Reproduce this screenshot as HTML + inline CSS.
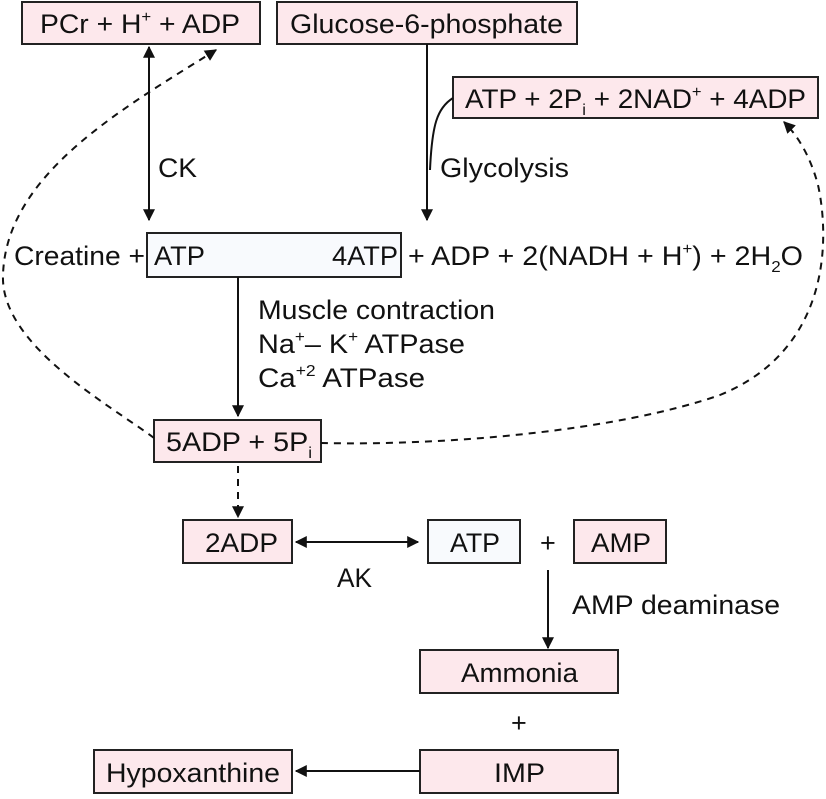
<!DOCTYPE html>
<html><head><meta charset="utf-8"><style>
html,body{margin:0;padding:0;background:#fff;}
svg text{font-family:"Liberation Sans",Arial,sans-serif;font-size:27px;fill:#111;}
.p{fill:#fde8ec;stroke:#222;stroke-width:2;}
.w{fill:#f8fafd;stroke:#222;stroke-width:2;}
.l{stroke:#111;stroke-width:2;fill:none;}
.d{stroke:#111;stroke-width:2;fill:none;stroke-dasharray:7,6;}
</style></head><body>
<svg width="826" height="794" viewBox="0 0 826 794" xmlns="http://www.w3.org/2000/svg">
<defs>
<marker id="a" viewBox="0 0 10 10" refX="9" refY="5" markerWidth="12" markerHeight="12" markerUnits="userSpaceOnUse" orient="auto-start-reverse"><path d="M0,0 L10,5 L0,10 z" fill="#111"/></marker>
</defs>
<rect class="p" x="22" y="2" width="238" height="42"/>
<text x="40" y="33" textLength="200" lengthAdjust="spacingAndGlyphs">PCr + H<tspan font-size="16" dy="-11">+</tspan><tspan dy="11"> + ADP</tspan></text>
<rect class="p" x="277" y="2" width="300" height="42"/>
<text x="290" y="33" textLength="273" lengthAdjust="spacingAndGlyphs">Glucose-6-phosphate</text>
<rect class="p" x="453" y="77" width="365" height="41"/>
<text x="465" y="108" textLength="341" lengthAdjust="spacingAndGlyphs">ATP + 2P<tspan font-size="16" dy="7">i</tspan><tspan dy="-7"> + 2NAD</tspan><tspan font-size="16" dy="-11">+</tspan><tspan dy="11"> + 4ADP</tspan></text>
<rect class="w" x="147" y="233" width="254" height="44"/>
<text x="14" y="265" textLength="131" lengthAdjust="spacingAndGlyphs">Creatine +</text>
<text x="154" y="265" textLength="51" lengthAdjust="spacingAndGlyphs">ATP</text>
<text x="332" y="265" textLength="66" lengthAdjust="spacingAndGlyphs">4ATP</text>
<text x="408" y="265" textLength="395" lengthAdjust="spacingAndGlyphs">+ ADP + 2(NADH + H<tspan font-size="16" dy="-11">+</tspan><tspan dy="11">) + 2H</tspan><tspan font-size="16" dy="7">2</tspan><tspan dy="-7">O</tspan></text>
<text x="158" y="177" textLength="39" lengthAdjust="spacingAndGlyphs">CK</text>
<text x="440" y="177" textLength="129" lengthAdjust="spacingAndGlyphs">Glycolysis</text>
<text x="258" y="319" textLength="237" lengthAdjust="spacingAndGlyphs">Muscle contraction</text>
<text x="258" y="353" textLength="207" lengthAdjust="spacingAndGlyphs">Na<tspan font-size="16" dy="-11">+</tspan><tspan dy="11">– K</tspan><tspan font-size="16" dy="-11">+</tspan><tspan dy="11"> ATPase</tspan></text>
<text x="258" y="387" textLength="167" lengthAdjust="spacingAndGlyphs">Ca<tspan font-size="16" dy="-11">+2</tspan><tspan dy="11"> ATPase</tspan></text>
<rect class="p" x="154" y="420" width="167" height="42"/>
<text x="166" y="451" textLength="146" lengthAdjust="spacingAndGlyphs">5ADP + 5P<tspan font-size="16" dy="7">i</tspan></text>
<rect class="p" x="183" y="520" width="109" height="43"/>
<text x="205" y="552" textLength="73" lengthAdjust="spacingAndGlyphs">2ADP</text>
<rect class="w" x="428" y="520" width="92" height="43"/>
<text x="450" y="552" textLength="50" lengthAdjust="spacingAndGlyphs">ATP</text>
<text x="540" y="552">+</text>
<rect class="p" x="574" y="520" width="92" height="43"/>
<text x="591" y="552" textLength="60" lengthAdjust="spacingAndGlyphs">AMP</text>
<text x="337" y="587" textLength="35" lengthAdjust="spacingAndGlyphs">AK</text>
<text x="572" y="614" textLength="208" lengthAdjust="spacingAndGlyphs">AMP deaminase</text>
<rect class="p" x="420" y="650" width="198" height="43"/>
<text x="461" y="682" textLength="117" lengthAdjust="spacingAndGlyphs">Ammonia</text>
<text x="511" y="732">+</text>
<rect class="p" x="420" y="750" width="198" height="43"/>
<text x="494" y="782" textLength="51" lengthAdjust="spacingAndGlyphs">IMP</text>
<rect class="p" x="94" y="750" width="198" height="43"/>
<text x="106" y="782" textLength="174" lengthAdjust="spacingAndGlyphs">Hypoxanthine</text>
<line class="l" x1="149" y1="47" x2="149" y2="220" marker-start="url(#a)" marker-end="url(#a)"/>
<line class="l" x1="427" y1="44" x2="427" y2="220" marker-end="url(#a)"/>
<path class="l" d="M453,98 C437,108 432,125 430,170"/>
<line class="l" x1="238" y1="277" x2="238" y2="416" marker-end="url(#a)"/>
<line class="d" x1="238" y1="466" x2="238" y2="517" marker-end="url(#a)"/>
<line class="l" x1="296" y1="542" x2="418" y2="542" marker-start="url(#a)" marker-end="url(#a)"/>
<line class="l" x1="548" y1="570" x2="548" y2="648" marker-end="url(#a)"/>
<line class="l" x1="420" y1="771" x2="296" y2="771" marker-end="url(#a)"/>
<path class="d" d="M154,438 C110,405 0,345 3,275 C6,175 120,110 216,50" marker-end="url(#a)"/>
<path class="d" d="M321,443 C450,446 620,430 720,395 C830,350 830,240 818,185 C810,155 797,135 784,122" marker-end="url(#a)"/>
</svg>
</body></html>
